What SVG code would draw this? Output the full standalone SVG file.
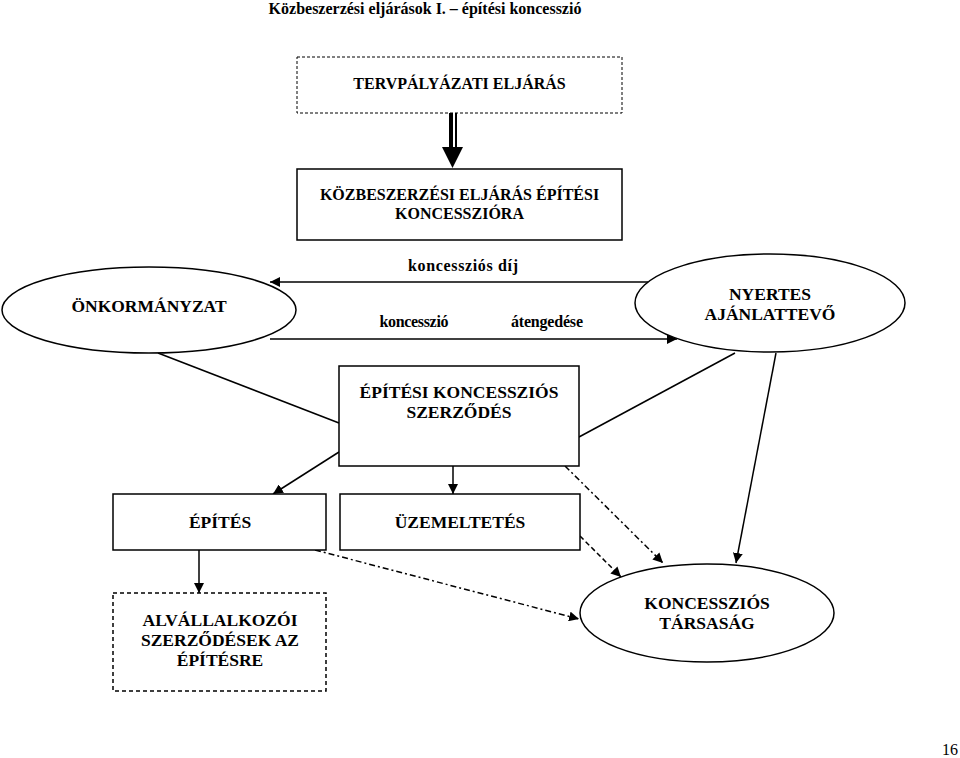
<svg xmlns="http://www.w3.org/2000/svg" width="960" height="758" viewBox="0 0 960 758">
<defs>
<marker id="ah" viewBox="0 0 10 10" refX="10" refY="5" markerWidth="10" markerHeight="10" markerUnits="userSpaceOnUse" orient="auto">
<path d="M0,0 L10,5 L0,10 z" fill="#000"/>
</marker>
<style>
text{font-family:"Liberation Serif","Times New Roman",serif;font-weight:bold;fill:#000;text-anchor:middle}
.t{font-size:16px}
.b{font-size:17.5px}
.s{font-size:16px}
.box{fill:#fff;stroke:#000;stroke-width:1.5}
.dbox{fill:#fff;stroke:#000;stroke-width:1.5;stroke-dasharray:4 3}
.dbox2{fill:#fff;stroke:#000;stroke-width:1;stroke-dasharray:3 2}
.ln{stroke:#000;stroke-width:1.5;fill:none}
.dd{stroke:#000;stroke-width:1.5;fill:none;stroke-dasharray:6 3 2 3}
.da{stroke:#000;stroke-width:1.5;fill:none;stroke-dasharray:5 3}
</style>
</defs>
<rect width="960" height="758" fill="#fff"/>
<text x="425" y="14" class="t">Közbeszerzési eljárások I. – építési koncesszió</text>

<g id="connectors">
<rect x="449" y="113" width="4" height="34" fill="#000"/>
<rect x="455" y="113" width="2" height="34" fill="#000"/>
<path d="M442,147 L463,147 L452.5,168 z" fill="#000"/>
<line x1="648" y1="282" x2="270" y2="282" class="ln" marker-end="url(#ah)"/>
<line x1="270" y1="339" x2="677" y2="339" class="ln" marker-end="url(#ah)"/>
<line x1="158" y1="353" x2="339" y2="423" class="ln"/>
<line x1="735" y1="353" x2="579" y2="437" class="ln"/>
<line x1="776" y1="353" x2="736" y2="563" class="ln" marker-end="url(#ah)"/>
<line x1="339" y1="452" x2="273" y2="494" class="ln" marker-end="url(#ah)"/>
<line x1="453" y1="466" x2="453" y2="494" class="ln" marker-end="url(#ah)"/>
<line x1="199" y1="550" x2="199" y2="593" class="ln" marker-end="url(#ah)"/>
<line x1="565" y1="466" x2="663" y2="563" class="dd" marker-end="url(#ah)"/>
<line x1="580" y1="536" x2="621" y2="577" class="da" marker-end="url(#ah)"/>
<line x1="315" y1="550" x2="579" y2="619" class="dd" marker-end="url(#ah)"/>
</g>

<g id="tervpalyazat">
<rect x="297" y="57" width="325" height="56" class="dbox2"/>
<text x="459.5" y="89" class="t">TERVPÁLYÁZATI ELJÁRÁS</text>
</g>
<g id="kozbeszerzes">
<rect x="297" y="169" width="325" height="71" class="box"/>
<text x="459.5" y="200" class="t">KÖZBESZERZÉSI ELJÁRÁS ÉPÍTÉSI</text>
<text x="459.5" y="219" class="t">KONCESSZIÓRA</text>
</g>
<g id="labels">
<text x="463" y="271" class="s" textLength="110" lengthAdjust="spacing">koncessziós díj</text>
<text x="414" y="327" class="s" textLength="69" lengthAdjust="spacing">koncesszió</text>
<text x="547" y="327" class="s" textLength="72" lengthAdjust="spacing">átengedése</text>
</g>
<g id="onkormanyzat">
<ellipse cx="149" cy="310" rx="147" ry="43" class="box"/>
<text x="149" y="312" class="b">ÖNKORMÁNYZAT</text>
</g>
<g id="nyertes">
<ellipse cx="770" cy="303" rx="135" ry="49" class="box"/>
<text x="770" y="300" class="b">NYERTES</text>
<text x="770" y="320" class="b">AJÁNLATTEVŐ</text>
</g>
<g id="szerzodes">
<rect x="339" y="366" width="240" height="100" class="box"/>
<text x="459" y="398" class="b">ÉPÍTÉSI KONCESSZIÓS</text>
<text x="459" y="418" class="b">SZERZŐDÉS</text>
</g>
<g id="epites">
<rect x="113" y="494" width="213" height="56" class="box"/>
<text x="220" y="528" class="b">ÉPÍTÉS</text>
</g>
<g id="uzemeltetes">
<rect x="340" y="494" width="240" height="56" class="box"/>
<text x="460" y="528" class="b">ÜZEMELTETÉS</text>
</g>
<g id="alvallalkozoi">
<rect x="113" y="593" width="213" height="98" class="dbox"/>
<text x="220" y="626" class="b">ALVÁLLALKOZÓI</text>
<text x="220" y="646" class="b">SZERZŐDÉSEK AZ</text>
<text x="220" y="666" class="b">ÉPÍTÉSRE</text>
</g>
<g id="tarsasag">
<ellipse cx="707" cy="613" rx="127" ry="49" class="box"/>
<text x="707" y="609" class="b">KONCESSZIÓS</text>
<text x="707" y="629" class="b">TÁRSASÁG</text>
</g>
<text x="950" y="755" style="font-weight:normal;font-size:16px">16</text>
</svg>
